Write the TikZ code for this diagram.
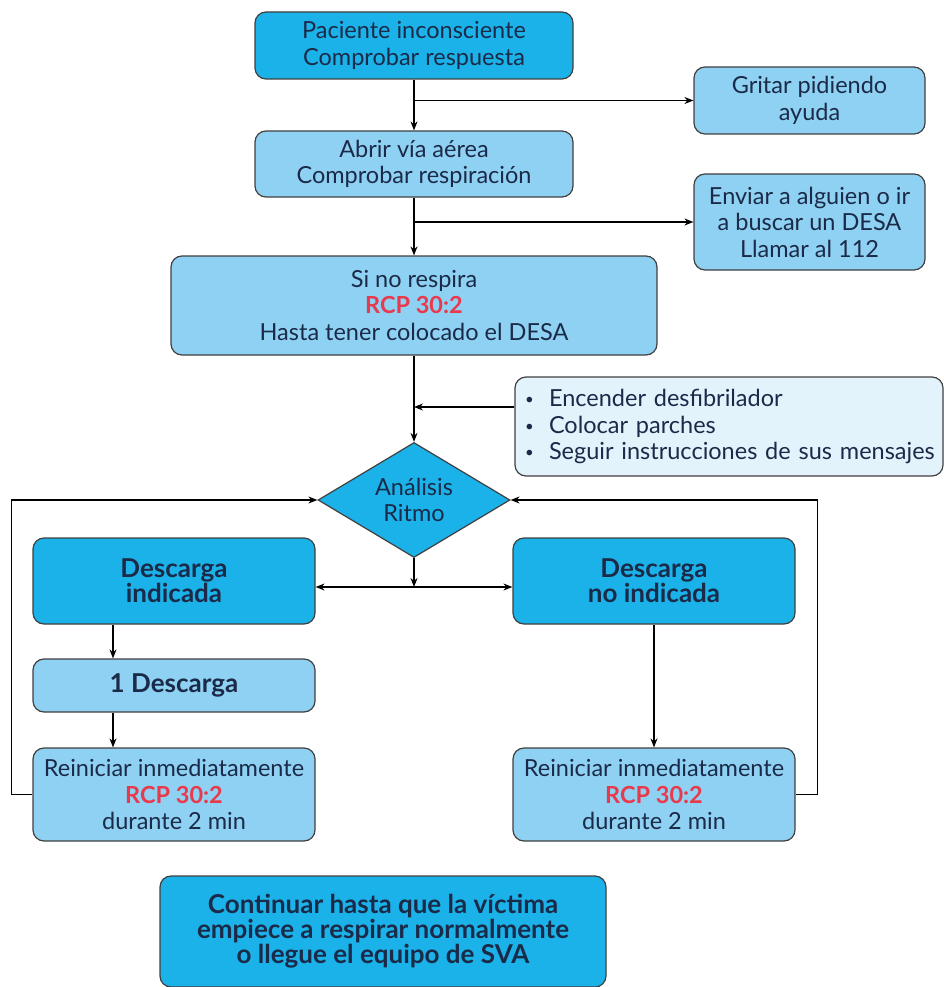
\documentclass[tikz,border=0pt]{standalone}
\usepackage{fontspec}
\setmainfont{Lato}
\usetikzlibrary{arrows.meta,positioning,shapes.geometric}
\definecolor{cyanbox}{HTML}{1AB2E8}
\definecolor{lightbox}{HTML}{8FD1F2}
\definecolor{palebox}{HTML}{E3F3FC}
\definecolor{navytext}{HTML}{1B2A48}
\definecolor{rcpred}{HTML}{E8394D}
\newcommand{\rcp}{{\color{rcpred}\bfseries RCP 30:2}}
\newcommand{\bul}[1]{\mbox{\makebox[24pt][l]{\raisebox{2pt}{\fontsize{15}{15}\selectfont•}}#1}}

\begin{document}
\begin{tikzpicture}[x=1pt, y=-1pt, >={Stealth[length=9pt, width=7pt]}, line width=1.2pt,
      stage/.style={draw=black!75, rounded corners=11pt, align=center, inner sep=0pt,
        text=navytext, font=\fontsize{23.5}{26.5}\selectfont},
      dark/.style={stage, fill=cyanbox},
      light/.style={stage, fill=lightbox},
      bold/.style={font=\fontsize{26}{25}\selectfont\bfseries}]
    \useasboundingbox (0,0) rectangle (943,987);
    \node[dark, minimum width=318, minimum height=67] (incons) at (414,45.5) {Paciente inconsciente\\Comprobar respuesta};
    \node[light, minimum width=231, minimum height=67] (ayuda) at (809.5,100.5) {Gritar pidiendo\\ayuda};
    \node[light, minimum width=318, minimum height=66] (abrir) at (414,164) {Abrir vía aérea\\Comprobar respiración};
    \node[light, minimum width=231, minimum height=96] (desa) at (809.5,222) {Enviar a alguien o ir\\a buscar un DESA\\Llamar al 112};
    \node[light, minimum width=486, minimum height=99] (resp) at (414,305.5) {Si no respira\\\rcp\\Hasta tener colocado el DESA};
    \node[stage, fill=palebox, minimum width=428, minimum height=99, align=left, text width=408, inner xsep=10pt] (pasos) at (729,426.5)
      {\bul{Encender desfibrilador}\\\bul{Colocar parches}\\\bul{Seguir instrucciones de sus mensajes}};
    \node[draw=black!75, fill=cyanbox, diamond, aspect=1.67, inner sep=0pt, minimum width=192, minimum height=115,
      align=center, text=navytext, font=\fontsize{23.5}{26.5}\selectfont] (ritmo) at (414,500) {Análisis\\Ritmo};
    \node[dark, bold, minimum width=282, minimum height=86] (indic) at (174,581) {Descarga\\indicada};
    \node[dark, bold, minimum width=282, minimum height=86] (noindic) at (654,581) {Descarga\\no indicada};
    \node[light, bold, minimum width=282, minimum height=53] (una) at (174,685.5) {1 Descarga};
    \node[light, minimum width=282, minimum height=93] (reiniL) at (174,794.5) {Reiniciar inmediatamente\\\rcp\\durante 2 min};
    \node[light, minimum width=282, minimum height=93] (reiniR) at (654,794.5) {Reiniciar inmediatamente\\\rcp\\durante 2 min};
    \node[dark, bold, minimum width=446, minimum height=111] (seguir) at (383,931.5)
      {Continuar hasta que la víctima\\empiece a respirar normalmente\\o llegue el equipo de SVA};
    % main column
    \coordinate (pin) at (414,407);
    \coordinate (split) at (414,587);
    \draw[->] (incons) -- (abrir);
    \draw[->] (incons.south |- ayuda.west) -- (ayuda.west);
    \draw[->] (abrir) -- (resp);
    \draw[->] (abrir.south |- desa.west) -- (desa.west);
    \draw[->] (resp) -- (ritmo);
    \draw[->] (pin -| pasos.west) -- (pin);
    \draw[->] (ritmo) -- (split);
    \draw[<->] (indic.east |- split) -- (noindic.west |- split);
    % branches
    \draw[->] ([xshift=-61pt]indic.south) -- ([xshift=-61pt]una.north);
    \draw[->] ([xshift=-61pt]una.south) -- ([xshift=-61pt]reiniL.north);
    \draw[->] (noindic) -- (reiniR);
    \draw[->] (reiniL.west) -- ++(-21,0) |- (ritmo.west);
    \draw[->] (reiniR.east) -- ++(22,0) |- (ritmo.east);
  \end{tikzpicture}
\end{document}
